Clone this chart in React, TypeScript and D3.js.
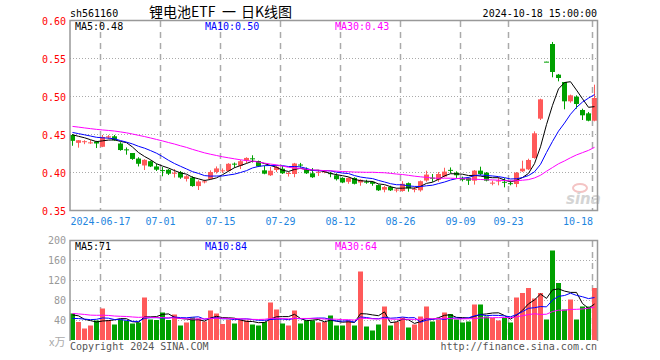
import React from "react";
import * as d3 from "d3";

// ---- Data ----
const openP = [
  0.4487, 0.4384, 0.4400, 0.4385, 0.4400, 0.4332, 0.4453, 0.4470, 0.4375, 0.4298,
  0.4250, 0.4177, 0.4086, 0.4142, 0.4073, 0.4025, 0.4030, 0.3985, 0.3996, 0.3910,
  0.3927, 0.3815, 0.3873, 0.3910, 0.4000, 0.4018, 0.4013, 0.4110, 0.4082, 0.4151,
  0.4180, 0.4142, 0.4022, 0.3957, 0.4026, 0.4043, 0.3983, 0.3974, 0.4098, 0.4034,
  0.3983, 0.3998, 0.4004, 0.3985, 0.3957, 0.3922, 0.3871, 0.3922, 0.3862, 0.3873,
  0.3871, 0.3828, 0.3767, 0.3802, 0.3765, 0.3750, 0.3853, 0.3774, 0.3759, 0.3888,
  0.3925, 0.3897, 0.3940, 0.4028, 0.3991, 0.3922, 0.3920, 0.3886, 0.4018, 0.3991,
  0.3858, 0.3884, 0.3871, 0.3853, 0.3842, 0.4009, 0.4035, 0.4184, 0.4702, 0.5452,
  0.5684, 0.5281, 0.5184, 0.4930, 0.4991, 0.4816, 0.4772, 0.4675,
];
const closeP = [
  0.4410, 0.4418, 0.4405, 0.4390, 0.4375, 0.4461, 0.4470, 0.4418, 0.4289, 0.4293,
  0.4172, 0.4108, 0.4160, 0.4073, 0.4030, 0.4020, 0.3978, 0.3990, 0.3927, 0.3944,
  0.3815, 0.3875, 0.3877, 0.4000, 0.4047, 0.4022, 0.4108, 0.4105, 0.4142, 0.4185,
  0.4175, 0.4073, 0.3978, 0.4017, 0.4069, 0.3983, 0.3987, 0.4112, 0.4092, 0.3983,
  0.3931, 0.4002, 0.4009, 0.3980, 0.3905, 0.3862, 0.3922, 0.3845, 0.3897, 0.3868,
  0.3845, 0.3759, 0.3802, 0.3759, 0.3769, 0.3845, 0.3784, 0.3778, 0.3879, 0.3966,
  0.3920, 0.3974, 0.4005, 0.4022, 0.3957, 0.3897, 0.3886, 0.4018, 0.3974, 0.3886,
  0.3860, 0.3888, 0.3866, 0.3849, 0.3991, 0.4044, 0.4158, 0.4509, 0.4956, 0.5448,
  0.5316, 0.5237, 0.4930, 0.5009, 0.4895, 0.4746, 0.4675, 0.4974,
];
const highP = [
  0.4500, 0.4420, 0.4418, 0.4420, 0.4410, 0.4487, 0.4487, 0.4487, 0.4392, 0.4323,
  0.4250, 0.4194, 0.4168, 0.4150, 0.4108, 0.4065, 0.4039, 0.4039, 0.4013, 0.3960,
  0.3944, 0.3892, 0.3900, 0.4022, 0.4073, 0.4047, 0.4116, 0.4125, 0.4160, 0.4194,
  0.4220, 0.4150, 0.4082, 0.4069, 0.4086, 0.4078, 0.4000, 0.4120, 0.4120, 0.4060,
  0.4052, 0.4026, 0.4017, 0.4000, 0.3983, 0.3931, 0.3931, 0.3931, 0.3905, 0.3897,
  0.3880, 0.3836, 0.3819, 0.3819, 0.3784, 0.3880, 0.3862, 0.3802, 0.3888, 0.4017,
  0.3974, 0.4000, 0.4056, 0.4060, 0.4009, 0.3939, 0.3930, 0.4026, 0.4070, 0.4000,
  0.3886, 0.3930, 0.3920, 0.3886, 0.4000, 0.4149, 0.4175, 0.4535, 0.4965, 0.5452,
  0.5711, 0.5290, 0.5184, 0.5018, 0.5009, 0.4833, 0.4790, 0.5149,
];
const lowP = [
  0.4345, 0.4320, 0.4366, 0.4370, 0.4315, 0.4327, 0.4435, 0.4410, 0.4280, 0.4228,
  0.4160, 0.4073, 0.4026, 0.4065, 0.4013, 0.3944, 0.3960, 0.3927, 0.3910, 0.3875,
  0.3806, 0.3763, 0.3850, 0.3901, 0.3980, 0.3987, 0.4004, 0.4056, 0.4039, 0.4116,
  0.4125, 0.4065, 0.3970, 0.3948, 0.4000, 0.3974, 0.3940, 0.3931, 0.4060, 0.3974,
  0.3922, 0.3948, 0.3983, 0.3931, 0.3888, 0.3853, 0.3845, 0.3836, 0.3819, 0.3845,
  0.3819, 0.3750, 0.3733, 0.3750, 0.3733, 0.3741, 0.3741, 0.3733, 0.3741, 0.3871,
  0.3871, 0.3871, 0.3930, 0.3983, 0.3922, 0.3877, 0.3830, 0.3834, 0.3956, 0.3877,
  0.3825, 0.3825, 0.3798, 0.3825, 0.3800, 0.4000, 0.4026, 0.4175, 0.4684, 0.5448,
  0.5246, 0.5193, 0.4825, 0.4912, 0.4833, 0.4684, 0.4667, 0.4667,
];
// volume in 万
const volume = [
  53, 36, 23, 29, 39, 63, 40, 31, 41, 38, 33, 35, 85, 41, 40, 55, 40, 51, 29, 35,
  45, 43, 37, 59, 53, 32, 41, 33, 41, 39, 31, 29, 36, 75, 61, 33, 29, 59, 33, 39,
  39, 35, 36, 49, 29, 29, 39, 29, 137, 27, 19, 31, 67, 29, 36, 45, 25, 31, 47, 67,
  37, 41, 55, 52, 41, 35, 37, 71, 71, 47, 44, 39, 44, 35, 85, 94, 104, 83, 94, 41,
  179, 114, 61, 81, 41, 67, 67, 104,
];
// estimated earlier sessions (off-chart) that feed the moving averages
const priorCloses = [
  0.470, 0.472, 0.468, 0.466, 0.469, 0.467, 0.465, 0.463, 0.466, 0.464,
  0.462, 0.465, 0.463, 0.461, 0.460, 0.462, 0.459, 0.461, 0.458, 0.459,
  0.457, 0.456, 0.455, 0.454, 0.453, 0.452, 0.450, 0.452, 0.450,
];
const priorVolumes = [
  62, 55, 70, 48, 60, 52, 66, 58, 49, 63, 57, 71, 54, 50, 61, 56, 52, 64, 55, 57,
  38, 34, 40, 32, 36, 45, 58, 42, 53,
];
const tickIndex = [5, 15, 25, 35, 45, 55, 65, 73, 87];
const tickLabels = ["2024-06-17", "07-01", "07-15", "07-29", "08-12", "08-26", "09-09", "09-23", "10-18"];
const priceTicks = [0.6, 0.55, 0.5, 0.45, 0.4, 0.35];
const volTicks = [200, 160, 120, 80, 40];
const maPeriods = [5, 10, 30];
const maColors = ["#000000", "#0000ff", "#ff00ff"];
const maPriceLegend = ["0.48", "0.50", "0.43"];
const maVolLegend = ["71", "84", "64"];

const UP = "#ff5a5a";
const DOWN = "#00a000";
const MONO = "'DejaVu Sans Mono', 'Liberation Mono', monospace";

function movingAvg(prior: number[], vals: number[], n: number): number[] {
  const all = prior.concat(vals);
  return vals.map((_, i) => {
    const end = prior.length + i;
    return d3.mean(all.slice(end - n + 1, end + 1)) as number;
  });
}

export default function App() {
  const N = closeP.length;
  const L = 70, R = 598;
  const x = d3.scaleLinear().domain([0, N]).range([L, R]);
  const yP = d3.scaleLinear().domain([0.35, 0.6]).range([210, 20]);
  const yV = d3.scaleLinear().domain([0, 200]).range([340, 240]);
  const cx = (i: number) => x(i) + 2.5;

  const priceMA = maPeriods.map((n) => movingAvg(priorCloses, closeP, n));
  const volMA = maPeriods.map((n) => movingAvg(priorVolumes, volume, n));
  const lineP = d3.line<number>().x((_, i) => cx(i)).y((d) => yP(d));
  const lineV = d3.line<number>().x((_, i) => cx(i)).y((d) => yV(d));

  const isUp = (i: number) => closeP[i] >= openP[i];
  const CJK = "'Noto Sans CJK SC', sans-serif";

  return (
    <svg width={660} height={360} style={{ position: "absolute", left: 0, top: 0, background: "#fff" }}>
      {/* header */}
      <text x={70} y={16.5} fontFamily={MONO} fontSize={10} fill="#000">sh561160</text>
      <text y={17} fontFamily={CJK} fontSize={14} fill="#000">
        <tspan x={149}>锂电池ETF</tspan>
        <tspan x={222}>一</tspan>
        <tspan x={241}>日K线图</tspan>
      </text>
      <text x={597} y={16.5} textAnchor="end" fontFamily={MONO} fontSize={10} fill="#000">2024-10-18 15:00:00</text>

      {/* price grid */}
      {priceTicks.slice(1, -1).map((v) => (
        <line key={"hp" + v} x1={L} x2={597} y1={Math.round(yP(v)) + 0.5} y2={Math.round(yP(v)) + 0.5} stroke="#aaa" strokeDasharray="1,2" />
      ))}
      {tickIndex.map((t) => (
        <line key={"vp" + t} x1={x(t) + 0.5} x2={x(t) + 0.5} y1={21} y2={210} stroke="#aaa" strokeWidth={1.5} strokeDasharray="6,5" />
      ))}
      {/* volume grid */}
      {volTicks.slice(1).map((v) => (
        <line key={"hv" + v} x1={L} x2={597} y1={yV(v) + 0.5} y2={yV(v) + 0.5} stroke="#aaa" strokeDasharray="1,2" />
      ))}
      {tickIndex.map((t) => (
        <line key={"vv" + t} x1={x(t) + 0.5} x2={x(t) + 0.5} y1={241} y2={340} stroke="#aaa" strokeWidth={1.5} strokeDasharray="6,5" />
      ))}

      {/* watermark */}
      <ellipse cx={580} cy={188} rx={7} ry={4} fill="none" stroke="#f4c4c4" strokeWidth={2} />
      <text x={566} y={204} fontFamily="'DejaVu Sans', sans-serif" fontStyle="italic" fontWeight="bold" fontSize={15} fill="#d4d4d4">sina</text>

      {/* candles */}
      {closeP.map((c, i) => {
        const o = openP[i];
        const col = isUp(i) ? UP : DOWN;
        const top = yP(Math.max(o, c));
        const h = Math.max(1, Math.abs(yP(o) - yP(c)));
        return (
          <g key={"c" + i}>
            <line x1={cx(i)} x2={cx(i)} y1={yP(highP[i])} y2={yP(lowP[i])} stroke={col} strokeWidth={1} />
            <rect x={x(i)} y={top} width={5} height={h} fill={col} />
          </g>
        );
      })}
      {priceMA.map((m, k) => (
        <path key={"pm" + k} d={lineP(m) || ""} fill="none" stroke={maColors[k]} strokeWidth={1} />
      ))}

      {/* volume bars */}
      {volume.map((v, i) => (
        <rect key={"v" + i} x={x(i)} y={yV(v)} width={5} height={yV(0) - yV(v)} fill={isUp(i) ? UP : DOWN} />
      ))}
      {volMA.map((m, k) => (
        <path key={"vm" + k} d={lineV(m) || ""} fill="none" stroke={maColors[k]} strokeWidth={1} />
      ))}

      {/* frames */}
      <path d={`M70,210.5 L70,20.5 L597.5,20.5 L597.5,210.5 Z`} fill="none" stroke="#999" strokeWidth={1.5} />
      <path d={`M70,341 L70,240.5 L597.5,240.5 L597.5,341`} fill="none" stroke="#999" strokeWidth={1.5} />

      {/* price axis */}
      {priceTicks.map((v) => (
        <text key={"pt" + v} x={66} y={yP(v) + 4.5} textAnchor="end" fontFamily={MONO} fontSize={10} fill="#ff0000">{v.toFixed(2)}</text>
      ))}
      {/* volume axis */}
      {volTicks.map((v) => (
        <text key={"vt" + v} x={66} y={yV(v) + 4} textAnchor="end" fontFamily={MONO} fontSize={10} fill="#999">{v}</text>
      ))}
      <text x={49} y={346} fontFamily={CJK} fontSize={11} fill="#aaa">x万</text>

      {/* date labels */}
      {tickIndex.map((t, k) => (
        <text key={"dl" + t} x={k === tickIndex.length - 1 ? x(t) + 1 : x(t) + 0.5} y={225} textAnchor={k === tickIndex.length - 1 ? "end" : "middle"} fontFamily={MONO} fontSize={10} fill="#1f86e0">{tickLabels[k]}</text>
      ))}

      {/* legends */}
      {maPeriods.map((n, k) => (
        <text key={"lp" + n} x={75 + 130 * k} y={29.5} fontFamily={MONO} fontSize={10} fill={maColors[k]}>{`MA${n}:${maPriceLegend[k]}`}</text>
      ))}
      {maPeriods.map((n, k) => (
        <text key={"lv" + n} x={75 + 130 * k} y={250} fontFamily={MONO} fontSize={10} fill={maColors[k]}>{`MA${n}:${maVolLegend[k]}`}</text>
      ))}

      {/* footer */}
      <text x={70} y={350} fontFamily={MONO} fontSize={10} fill="#555">Copyright 2024 SINA.COM</text>
      <text x={597} y={350} textAnchor="end" fontFamily={MONO} fontSize={10} fill="#555">http://finance.sina.com.cn</text>
    </svg>
  );
}
